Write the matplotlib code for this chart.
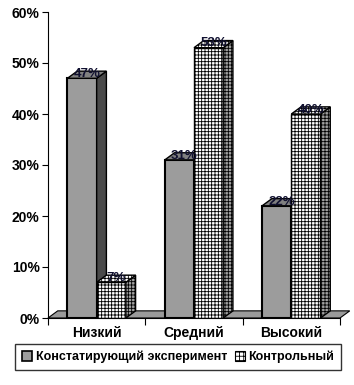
import matplotlib
matplotlib.use("Agg")
import matplotlib.pyplot as plt
from matplotlib.patches import Polygon, Patch
import numpy as np

plt.rcParams['font.family'] = ['Liberation Sans', 'DejaVu Sans']
plt.rcParams['hatch.linewidth'] = 0.6

categories = ["Низкий", "Средний", "Высокий"]
series_names = ["Констатирующий эксперимент", "Контрольный"]
values_exp = [47, 31, 22]
values_ctrl = [7, 53, 40]
yticks = [0, 10, 20, 30, 40, 50, 60]

fig = plt.figure(figsize=(3.54, 3.85), dpi=100)
ax = fig.add_axes([48/354, 67/385, 292/354, 306/385])
ax.set_xlim(-0.5, 2.5)
ax.set_ylim(0, 60)

x = np.arange(len(categories))
w = 0.3
dx = 0.1
dy = 1.4
HATCH = '+++++'

def draw_3d(bars, top, side, hatch=None, side_hatch=None):
    for b in bars:
        x0 = b.get_x(); x1 = x0 + b.get_width(); h = b.get_height()
        ax.add_patch(Polygon([[x1, 0], [x1 + dx, dy], [x1 + dx, h + dy], [x1, h]],
                             closed=True, facecolor=side, edgecolor='black',
                             lw=1.0, hatch=side_hatch, zorder=b.get_zorder()))
        ax.add_patch(Polygon([[x0, h], [x0 + dx, h + dy], [x1 + dx, h + dy], [x1, h]],
                             closed=True, facecolor=top, edgecolor='black',
                             lw=1.0, hatch=hatch, zorder=b.get_zorder()))

# floor
ax.add_patch(Polygon([[-0.5, 0], [-0.5 + dx, dy], [2.5 + dx, dy], [2.5, 0]], closed=True,
                     facecolor='#9a9a9a', edgecolor='black', lw=0.8, zorder=1, clip_on=False))

b1 = ax.bar(x - w/2, values_exp, w, color='#9c9c9c', edgecolor='black', lw=1.5, zorder=3)
draw_3d(b1, '#808080', '#4a4a4a')
b2 = ax.bar(x + w/2, values_ctrl, w, color='white', edgecolor='black', lw=1.0,
            hatch=HATCH, zorder=4)
draw_3d(b2, 'white', '#a0a0a0', hatch=HATCH, side_hatch=HATCH)

for bars, vals in ((b1, values_exp), (b2, values_ctrl)):
    for b, v in zip(bars, vals):
        ax.text(b.get_x() + b.get_width()/2 + dx/2, v + dy*0.6, f"{v}%", ha='center',
                va='center', fontsize=9.5, fontweight='bold', color='#101030', zorder=10)

ax.set_yticks(yticks)
ax.set_yticklabels([f"{t}%" for t in yticks], fontsize=10, fontweight='bold')
ax.set_xticks([-0.5, 0.5, 1.5, 2.5])
ax.set_xticklabels([])
ax.set_xticks(x, minor=True)
ax.set_xticklabels(categories, minor=True, fontsize=10, fontweight='bold')
ax.tick_params(axis='x', which='minor', length=0, pad=6)
ax.tick_params(axis='x', which='major', length=5, direction='out')
ax.tick_params(axis='y', length=4, direction='out', pad=2)
for s in ['top', 'right']:
    ax.spines[s].set_visible(False)

handles = [Patch(facecolor='#9c9c9c', edgecolor='black', lw=1.2),
           Patch(facecolor='white', edgecolor='black', hatch='++++', lw=0.8)]
leg = fig.legend(handles, series_names, loc='center', bbox_to_anchor=(178/354, 1 - 357/385),
                 ncol=2, frameon=True, fancybox=False, edgecolor='black',
                 prop={'weight': 'bold', 'size': 9}, handlelength=0.8, handleheight=0.8,
                 handletextpad=0.3, columnspacing=0.6, borderpad=0.55, borderaxespad=0)
leg.get_frame().set_linewidth(1.0)

fig.savefig("out.png", dpi=100)
